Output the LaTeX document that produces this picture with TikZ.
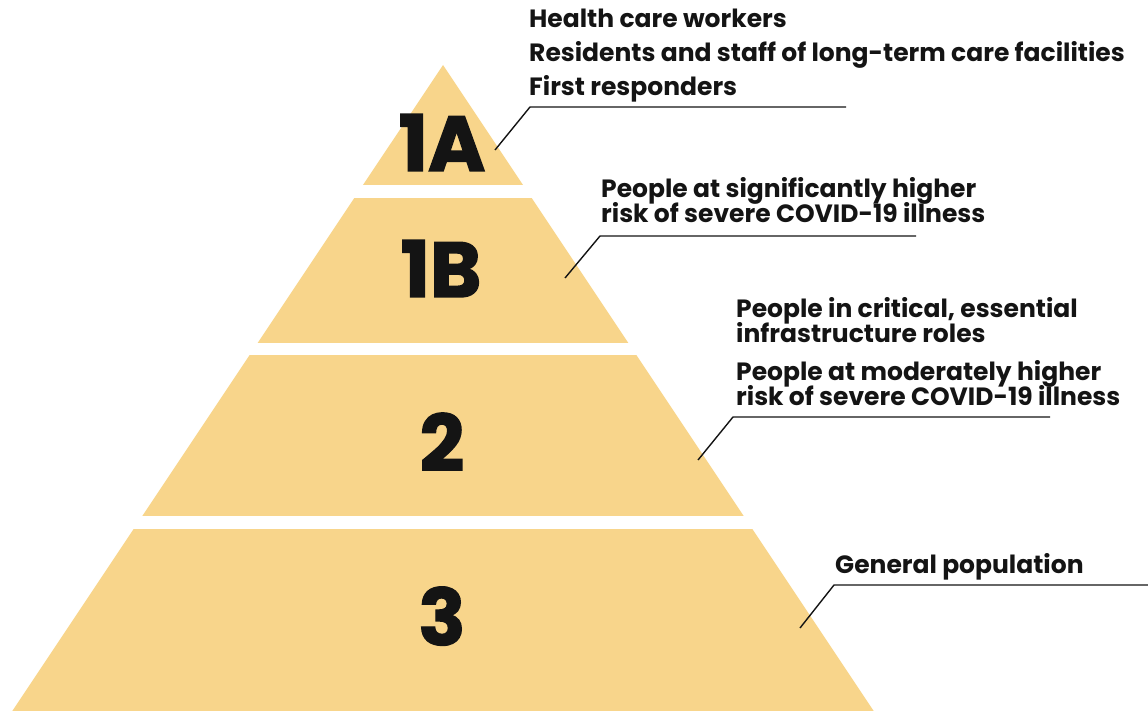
\documentclass[tikz,border=0pt]{standalone}
\usepackage{fontspec}
\setmainfont{Poppins}
\newfontfamily\bigfont{Poppins}[BoldFeatures={FakeBold=1.8}]
\definecolor{pyr}{HTML}{F8D58B}
\definecolor{ink}{HTML}{141414}
\begin{document}
\begin{tikzpicture}[x=1pt,y=-1pt,
  lead/.style={draw=ink, line width=1.4pt},
  lbl/.style={anchor=base west, inner sep=0pt, text=ink, font=\fontsize{25}{25}\selectfont\bfseries},
  tierlbl/.style={anchor=base, inner sep=0pt, text=ink, font=\bigfont\fontsize{78}{78}\selectfont\bfseries}]
\useasboundingbox (0,0) rectangle (1148,711);
% pyramid
\begin{scope}
  \clip (443,65) -- (873.7,711) -- (12.3,711) -- cycle;
  \fill[pyr] (0,60) rectangle (1148,185);
  \fill[pyr] (0,198) rectangle (1148,343);
  \fill[pyr] (0,355) rectangle (1148,516);
  \fill[pyr] (0,529) rectangle (1148,711);
\end{scope}
% tier labels
\node[tierlbl] (t1a) at (442,171) {1A};
\node[tierlbl] (t1b) at (441,297) {1B};
\node[tierlbl] (t2) at (442,471) {2};
\node[tierlbl] (t3) at (442,645) {3};
% texts
\node[lbl] (h1) at (529,28) {Health care workers};
\node[lbl] (h2) at (529,62) {Residents and staff of long-term care facilities};
\node[lbl] (h3) at (529,96) {First responders};
\node[lbl] (b1) at (601,198) {People at significantly higher};
\node[lbl] (b2) at (601,223) {risk of severe COVID-19 illness};
\node[lbl] (s1) at (736,317) {People in critical, essential};
\node[lbl] (s2) at (736,342) {infrastructure roles};
\node[lbl] (s3) at (736,380) {People at moderately higher};
\node[lbl] (s4) at (736,405) {risk of severe COVID-19 illness};
\node[lbl] (g1) at (835,573) {General population};
% leaders
\coordinate (a1) at (495,150); \coordinate (k1) at (530,107); \coordinate (e1) at (846,107);
\coordinate (a2) at (565,278); \coordinate (k2) at (600,236); \coordinate (e2) at (916,236);
\coordinate (a3) at (698,460); \coordinate (k3) at (733,417); \coordinate (e3) at (1050,417);
\coordinate (a4) at (800,628); \coordinate (k4) at (834,585); \coordinate (e4) at (1148,585);
\draw[lead] (a1) -- (k1) -- (e1);
\draw[lead] (a2) -- (k2) -- (e2);
\draw[lead] (a3) -- (k3) -- (e3);
\draw[lead] (a4) -- (k4) -- (e4);
\end{tikzpicture}
\end{document}
